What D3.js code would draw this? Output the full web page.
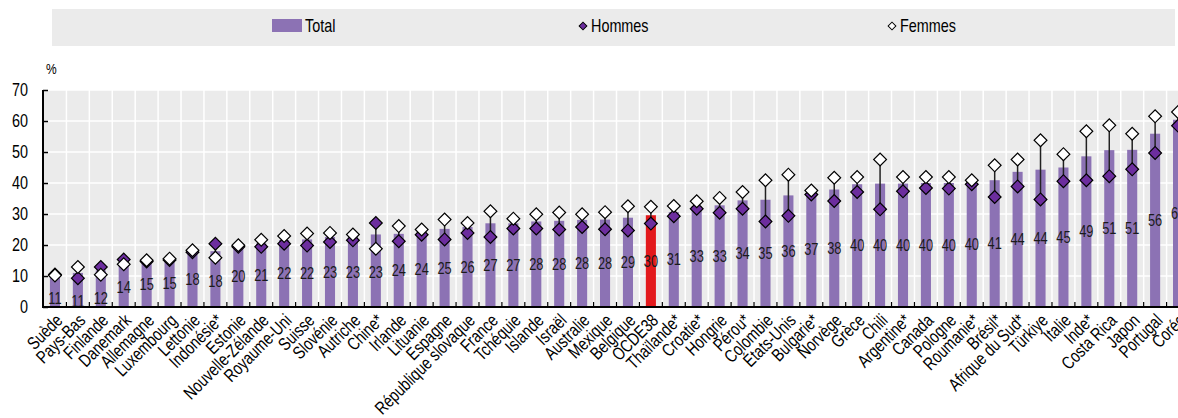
<!DOCTYPE html>
<html>
<head>
<meta charset="utf-8">
<script src="https://cdn.jsdelivr.net/npm/d3@7"></script>
<style>
  body { margin: 0; background: #fff; }
  svg text { font-family: "Liberation Sans", Arial, sans-serif; }
</style>
</head>
<body>
<div id="chart"></div>
<script>
const BAR_COLOR = '#8C72B4'
const OECD_COLOR = '#E3191C'
const MEN_COLOR = '#6C2D9E'
const BG_COLOR = '#EBEBEB'
// the original uses a narrow font: squeeze text horizontally
const NARROW = 0.8

// data
const countries = ['Suède', 'Pays-Bas', 'Finlande', 'Danemark', 'Allemagne', 'Luxembourg', 'Lettonie', 'Indonésie*',
  'Estonie', 'Nouvelle-Zélande', 'Royaume-Uni', 'Suisse', 'Slovénie', 'Autriche', 'Chine*', 'Irlande', 'Lituanie',
  'Espagne', 'République slovaque', 'France', 'Tchéquie', 'Islande', 'Israël', 'Australie', 'Mexique', 'Belgique',
  'OCDE38', 'Thaïlande*', 'Croatie*', 'Hongrie', 'Pérou*', 'Colombie', 'États-Unis', 'Bulgarie*', 'Norvège', 'Grèce',
  'Chili', 'Argentine*', 'Canada', 'Pologne', 'Roumanie*', 'Brésil*', 'Afrique du Sud*', 'Türkiye', 'Italie', 'Inde*',
  'Costa Rica', 'Japon', 'Portugal', 'Corée']
const total = [10.6, 11.0, 11.8, 14.2, 14.8, 15.3, 17.8, 18.0, 19.6, 20.5, 21.6, 21.8, 22.6, 22.7, 23.4, 23.6, 24.2,
  25.2, 25.8, 27.0, 27.0, 27.6, 27.8, 28.1, 28.2, 28.8, 29.6, 30.6, 32.6, 32.8, 34.4, 34.6, 36.0, 37.1, 37.9, 39.6,
  39.8, 39.8, 40.0, 40.0, 40.2, 40.9, 43.6, 44.3, 45.0, 48.6, 50.6, 50.7, 55.9, 60.4]
const hommes = [10.5, 9.3, 12.9, 15.3, 14.7, 15.2, 17.7, 20.4, 19.4, 19.4, 20.4, 19.8, 21.0, 21.5, 27.1, 21.2, 23.3,
  21.8, 23.9, 22.6, 25.3, 25.3, 25.0, 25.8, 25.1, 24.7, 26.9, 29.3, 31.7, 30.4, 31.7, 27.6, 29.4, 36.3, 34.2, 37.1,
  31.5, 37.3, 38.4, 38.2, 39.6, 35.5, 38.9, 34.7, 40.6, 40.9, 42.2, 44.4, 49.7, 58.5]
const femmes = [10.2, 12.9, 10.4, 13.8, 15.1, 15.6, 18.3, 15.9, 19.9, 21.7, 22.9, 23.7, 23.9, 23.4, 18.8, 26.1, 25.0,
  28.2, 27.1, 30.9, 28.5, 29.9, 30.5, 29.9, 30.6, 32.5, 32.3, 32.6, 34.1, 35.2, 37.1, 40.9, 42.7, 37.6, 41.7, 41.9,
  47.6, 41.9, 41.9, 41.9, 40.9, 45.7, 47.6, 53.8, 49.3, 56.7, 58.6, 55.9, 61.5, 62.9]
const yTicks = [0, 10, 20, 30, 40, 50, 60, 70]
const legendLabels = ['Total', 'Hommes', 'Femmes']

const width = 1178
const height = 418
const margin = { top: 90, left: 43, bottom: 111 }

const svg = d3.select('#chart').append('svg')
  .attr('width', width)
  .attr('height', height)

// scales
const xScale = d3.scaleBand()
  .domain(countries)
  .range([43.5, 1189.5])
  .padding(0)
const yScale = d3.scaleLinear()
  .domain([0, 70])
  .range([height - margin.bottom, margin.top])
const barW = xScale.bandwidth() * 0.44
const cx = d => xScale(d) + xScale.bandwidth() / 2

// ===================== LEGEND =====================
const legend = svg.append('g')
legend.append('rect')
  .attr('x', 52).attr('y', 9)
  .attr('width', 1123).attr('height', 37)
  .attr('fill', BG_COLOR)
legend.append('rect')
  .attr('x', 272).attr('y', 19)
  .attr('width', 30).attr('height', 13)
  .attr('fill', BAR_COLOR)
const legendSym = d3.symbol(d3.symbolSquare, 30)
legend.append('path')
  .attr('d', legendSym)
  .attr('transform', 'translate(583,26) rotate(45)')
  .attr('fill', MEN_COLOR).attr('stroke', '#000').attr('stroke-width', 1)
legend.append('path')
  .attr('d', legendSym)
  .attr('transform', 'translate(892,26) rotate(45)')
  .attr('fill', '#fff').attr('stroke', '#000').attr('stroke-width', 1)
legend.selectAll('text.lg')
  .data(legendLabels)
  .join('text')
  .attr('class', 'lg')
  .attr('transform', (d, i) => `translate(${[305, 591, 900][i]},32) scale(${NARROW},1)`)
  .style('font-size', '18px')
  .text(d => d)

// ===================== PLOT AREA =====================
const plotRight = xScale.range()[1]
svg.append('rect')
  .attr('x', margin.left).attr('y', yScale(70))
  .attr('width', plotRight - margin.left)
  .attr('height', yScale(0) - yScale(70))
  .attr('fill', BG_COLOR)

// grid
svg.append('g')
  .selectAll('line')
  .data(yTicks.slice(1))
  .join('line')
  .attr('x1', margin.left).attr('x2', plotRight)
  .attr('y1', d => yScale(d)).attr('y2', d => yScale(d))
  .attr('stroke', '#fff').attr('stroke-width', 1.5)
svg.append('g')
  .selectAll('line')
  .data(countries.slice(1))
  .join('line')
  .attr('x1', d => xScale(d)).attr('x2', d => xScale(d))
  .attr('y1', yScale(70)).attr('y2', yScale(0))
  .attr('stroke', '#fff').attr('stroke-width', 1.5)

// bars
svg.append('g')
  .selectAll('rect')
  .data(countries)
  .join('rect')
  .attr('x', d => cx(d) - barW / 2)
  .attr('width', barW)
  .attr('y', (d, i) => yScale(total[i]))
  .attr('height', (d, i) => yScale(0) - yScale(total[i]))
  .attr('fill', d => d === 'OCDE38' ? OECD_COLOR : BAR_COLOR)

// value labels inside bars
svg.append('g')
  .selectAll('text')
  .data(countries)
  .join('text')
  .attr('transform', (d, i) => {
    const v = Math.min(total[i] / 2, Math.min(hommes[i], femmes[i]) - 7.5)
    return `translate(${cx(d)},${yScale(v)}) scale(${NARROW},1)`
  })
  .attr('dy', '0.36em')
  .attr('text-anchor', 'middle')
  .attr('fill', '#1a1a1a')
  .style('font-size', '16px')
  .text((d, i) => d3.format('.0f')(total[i]))

// range lines
svg.append('g')
  .selectAll('line')
  .data(countries)
  .join('line')
  .attr('x1', cx).attr('x2', cx)
  .attr('y1', (d, i) => yScale(hommes[i]))
  .attr('y2', (d, i) => yScale(femmes[i]))
  .attr('stroke', '#222').attr('stroke-width', 1.5)

// markers
const diamond = d3.symbol(d3.symbolSquare, 82)
svg.append('g')
  .selectAll('path')
  .data(countries)
  .join('path')
  .attr('d', diamond)
  .attr('transform', (d, i) => `translate(${cx(d)},${yScale(hommes[i])}) rotate(45)`)
  .attr('fill', MEN_COLOR).attr('stroke', '#000').attr('stroke-width', 1.2)
svg.append('g')
  .selectAll('path')
  .data(countries)
  .join('path')
  .attr('d', diamond)
  .attr('transform', (d, i) => `translate(${cx(d)},${yScale(femmes[i])}) rotate(45)`)
  .attr('fill', '#fff').attr('stroke', '#000').attr('stroke-width', 1.2)

// ===================== AXES =====================
const yAxis = svg.append('g')
  .attr('transform', `translate(${margin.left},0)`)
  .call(d3.axisRight(yScale).tickValues(yTicks).tickSize(5).tickFormat(''))
yAxis.select('.domain').attr('stroke', '#000').attr('stroke-width', 2).attr('d', `M0,${yScale(70)}V${yScale(0)}`)
yAxis.selectAll('.tick line').attr('stroke', '#000').attr('stroke-width', 1.5)

svg.append('g')
  .selectAll('text')
  .data(yTicks)
  .join('text')
  .attr('transform', d => `translate(28,${yScale(d)}) scale(${NARROW},1)`)
  .attr('dy', '0.36em')
  .attr('text-anchor', 'end')
  .style('font-size', '18px')
  .text(d => d)

svg.append('text')
  .attr('transform', `translate(46,74) scale(${NARROW},1)`)
  .style('font-size', '15px')
  .text('%')

// bottom axis line and ticks at category boundaries
svg.append('line')
  .attr('x1', margin.left - 1).attr('x2', width)
  .attr('y1', yScale(0)).attr('y2', yScale(0))
  .attr('stroke', '#000').attr('stroke-width', 2)
svg.append('g')
  .selectAll('line')
  .data(countries.slice(1))
  .join('line')
  .attr('x1', d => xScale(d)).attr('x2', d => xScale(d))
  .attr('y1', yScale(0)).attr('y2', yScale(0) - 5)
  .attr('stroke', '#000').attr('stroke-width', 1.2)

// category labels
svg.append('g')
  .selectAll('text')
  .data(countries)
  .join('text')
  .attr('transform', d => `translate(${cx(d) + 4},${yScale(0) + 10}) rotate(-45) scale(0.79,1)`)
  .attr('text-anchor', 'end')
  .attr('dy', '0.36em')
  .style('font-size', '18px')
  .text(d => d)
</script>
</body>
</html>
